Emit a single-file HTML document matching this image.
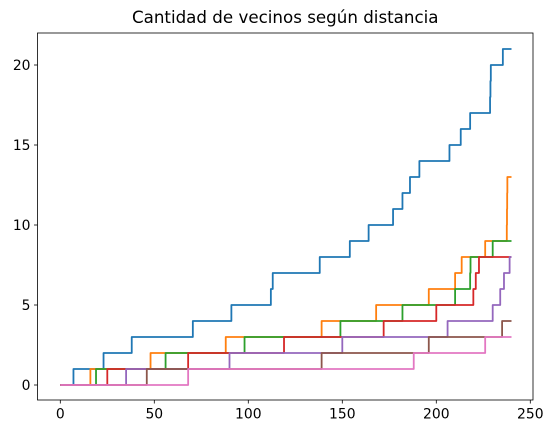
<!DOCTYPE html>
<html><head><meta charset="utf-8"><style>
body{margin:0;background:#fff;}
svg text{font-family:"DejaVu Sans","Liberation Sans",sans-serif;fill:#000;}
</style></head><body>
<svg id="chart" width="552" height="436"></svg>
<script>
const xTicks=[0,50,100,150,200,250];
const yTicks=[0,5,10,15,20];
const xMax=240;
const blueSteps=[7,23,38,70.5,91,112,113,138,154,164,177,182,186,191,207,213,218,228.6,228.8,229,235.4];
const orangeSteps=[16,48,88,139,168,196,210,213.5,226,237.5,237.6,237.7,237.8];
const greenSteps=[19,56,98,149,182,210,218,218.2,230];
const redSteps=[25,68,119,172,200,219.7,221,222.7];
const purpleSteps=[35,90,150,206,230,234,236,239];
const brownSteps=[46,139,196,235];
const pinkSteps=[68,188,226];
const seriesList=[blueSteps,orangeSteps,greenSteps,redSteps,purpleSteps,brownSteps,pinkSteps];
const seriesNames=['series-blue','series-orange','series-green','series-red','series-purple','series-brown','series-pink'];
const colors=['#1f77b4','#ff7f0e','#2ca02c','#d62728','#9467bd','#8c564b','#e377c2'];

const L=37.5,R=533,T=33,B=400;
const xs=v=>60.3+v*1.88;
const ys=v=>385-v*16;
const svg=document.getElementById('chart');
const NS='http://www.w3.org/2000/svg';
function mk(tag,attrs){const e=document.createElementNS(NS,tag);for(const k in attrs)e.setAttribute(k,attrs[k]);svg.appendChild(e);return e;}

for(let i=0;i<seriesList.length;i++){
  const st=seriesList[i];
  let d='M'+xs(0)+','+ys(0);
  st.forEach((x,k)=>{d+=' L'+xs(x)+','+ys(k)+' L'+xs(x)+','+ys(k+1);});
  d+=' L'+xs(xMax)+','+ys(st.length);
  const p=mk('path',{d:d,fill:'none',stroke:colors[i],'stroke-width':1.8,'stroke-linejoin':'round'});
  
  
}

const frame=mk('rect',{x:L,y:T,width:R-L,height:B-T,fill:'none',stroke:'#000','stroke-width':0.8});



xTicks.forEach(t=>{
  const tk=mk('line',{x1:xs(t),x2:xs(t),y1:B,y2:B+3.5,stroke:'#000','stroke-width':0.8});
  
  
  const tx=mk('text',{x:xs(t),y:B+18.5,'text-anchor':'middle','font-size':13.9});
  tx.textContent=t;
  
  
});
yTicks.forEach(t=>{
  const tk=mk('line',{x1:L-3.5,x2:L,y1:ys(t),y2:ys(t),stroke:'#000','stroke-width':0.8});
  
  
  const tx=mk('text',{x:L-7,y:ys(t)+5,'text-anchor':'end','font-size':13.9});
  tx.textContent=t;
  
  
});
const title=mk('text',{x:(L+R)/2,y:23,'text-anchor':'middle','font-size':16.7});
title.textContent='Cantidad de vecinos según distancia';


</script>
</body></html>
